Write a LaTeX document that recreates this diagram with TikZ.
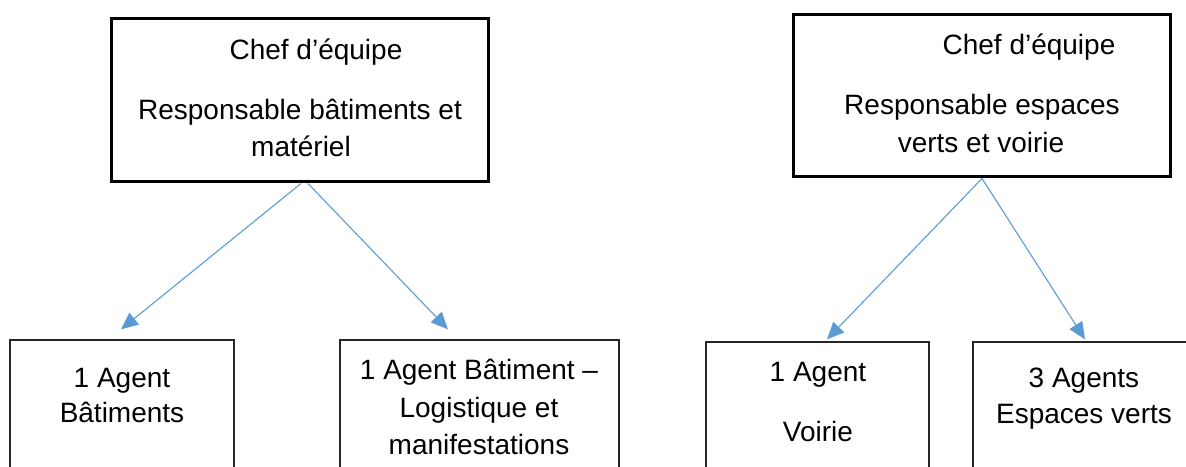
\documentclass[tikz,border=0pt]{standalone}
\usepackage{fontspec}
\setmainfont{Liberation Sans}
\usetikzlibrary{arrows.meta}
\definecolor{arrowblue}{HTML}{5B9BD5}
\begin{document}
\begin{tikzpicture}[x=1bp,y=1bp,
  topbox/.style={draw=black, line width=3bp, inner sep=0, rectangle},
  agentbox/.style={draw=black!85, line width=1.3bp, inner sep=0, rectangle},
  lbl/.style={anchor=base, inner sep=0, font=\fontsize{28bp}{34bp}\selectfont},
  link/.style={draw=arrowblue, line width=1.1bp, -{Triangle[length=17bp,width=15bp]}}]
\clip (0,0) rectangle (1186,467);
% boxes
\node[topbox, minimum width=376bp, minimum height=163bp] (b1) at (300,366.5) {};
\node[topbox, minimum width=377bp, minimum height=162bp] (b2) at (981.5,371) {};
\node[agentbox, minimum width=224bp, minimum height=150bp] (c1) at (122,52) {};
\node[agentbox, minimum width=279bp, minimum height=150bp] (c2) at (479.5,52) {};
\node[agentbox, minimum width=223bp, minimum height=148bp] (c3) at (817.5,51) {};
\node[agentbox, minimum width=227bp, minimum height=148bp] (c4) at (1086.5,51) {};
% texts
\node[lbl] (t11) at (316,407) {Chef d’équipe};
\node[lbl] (t12) at (300,347) {Responsable bâtiments et};
\node[lbl] (t13) at (301,310) {matériel};
\node[lbl] (t21) at (1029,412) {Chef d’équipe};
\node[lbl] (t22) at (982,352) {Responsable espaces};
\node[lbl] (t23) at (981,314) {verts et voirie};
\node[lbl] (t31) at (122,79) {1 Agent};
\node[lbl] (t32) at (122,44) {Bâtiments};
\node[lbl] (t41) at (479,87) {1 Agent Bâtiment –};
\node[lbl] (t42) at (479,49) {Logistique et};
\node[lbl] (t43) at (479,12) {manifestations};
\node[lbl] (t51) at (818,85) {1 Agent};
\node[lbl] (t52) at (818,25) {Voirie};
\node[lbl] (t61) at (1084,79) {3 Agents};
\node[lbl] (t62) at (1084,43) {Espaces verts};
% connectors
\draw[link] ([xshift=1bp]b1.south) -- ([xshift=-1bp,yshift=10bp]c1.north);
\draw[link] ([xshift=8bp]b1.south) -- ([xshift=-31.5bp,yshift=10bp]c2.north);
\draw[link] ([xshift=0.5bp]b2.south) -- ([xshift=9.5bp,yshift=2bp]c3.north);
\draw[link] ([xshift=0.5bp]b2.south) -- ([xshift=-1.5bp,yshift=2bp]c4.north);
\end{tikzpicture}
\end{document}
